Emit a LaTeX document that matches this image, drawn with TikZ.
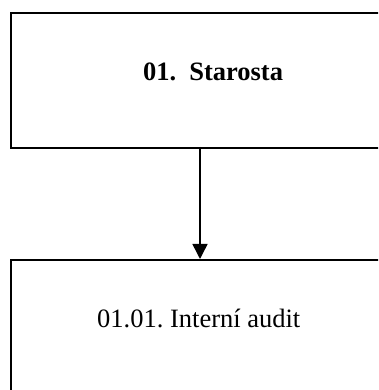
\documentclass[tikz,border=0pt]{standalone}
\usepackage{fontspec}
\setmainfont{Liberation Serif}
\usetikzlibrary{arrows.meta}
\begin{document}
\begin{tikzpicture}[x=1pt,y=1pt,
  box/.style={draw=black,line width=1.8pt,inner sep=0pt,anchor=north west},
  lbl/.style={font=\fontsize{26.5}{30}\selectfont,inner sep=0pt,anchor=west},
  conn/.style={line width=1.5pt,-{Triangle[length=15pt,width=15pt]}}]
\useasboundingbox (0,0) rectangle (378,390);
\clip (0,0) rectangle (378,390);
\node[box,minimum width=420pt,minimum height=135pt] (top) at (10,378) {};
\node[box,minimum width=420pt,minimum height=160pt] (bot) at (10,131) {};
\node[lbl,font=\bfseries\fontsize{26.5}{30}\selectfont] (t1) at (143,318) {01.\hspace{13pt}Starosta};
\node[lbl] (t2) at (97,72) {01.01.\ Interní audit};
\coordinate (a) at (200,243);
\coordinate (b) at (200,131);
\draw[conn] (a) -- (b);
\end{tikzpicture}
\end{document}
